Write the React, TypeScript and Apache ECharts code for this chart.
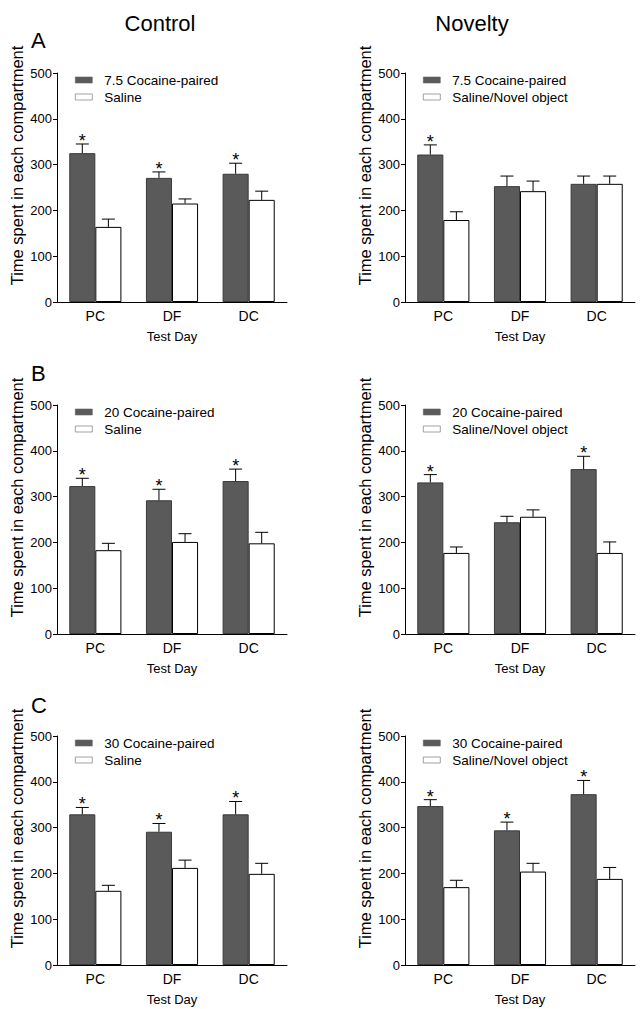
import React, { useEffect, useRef } from 'react';
import * as echarts from 'echarts';

const categories = ['PC', 'DF', 'DC'];
const yTickMax = 500;
const yTickStep = 100;

const columnTitles = ['Control', 'Novelty'];
const rowLetters = ['A', 'B', 'C'];
const yAxisTitle = 'Time spent in each compartment';
const xAxisTitle = 'Test Day';

const cocaineNames = ['7.5 Cocaine-paired', '20 Cocaine-paired', '30 Cocaine-paired'];
const salineNameControl = 'Saline';
const salineNameNovelty = 'Saline/Novel object';

// Row A (7.5)
const aControlCocaine = [325, 271, 280];
const aControlCocaineSem = [20, 13, 23];
const aControlSaline = [164, 215, 223];
const aControlSalineSem = [17, 10, 19];
const aControlStars = [1, 1, 1];

const aNoveltyCocaine = [322, 253, 258];
const aNoveltyCocaineSem = [21, 22, 17];
const aNoveltySaline = [179, 242, 258];
const aNoveltySalineSem = [18, 22, 17];
const aNoveltyStars = [1, 0, 0];

// Row B (20)
const bControlCocaine = [323, 292, 334];
const bControlCocaineSem = [17, 24, 26];
const bControlSaline = [183, 201, 198];
const bControlSalineSem = [15, 18, 24];
const bControlStars = [1, 1, 1];

const bNoveltyCocaine = [331, 244, 360];
const bNoveltyCocaineSem = [17, 13, 28];
const bNoveltySaline = [177, 256, 177];
const bNoveltySalineSem = [13, 15, 24];
const bNoveltyStars = [1, 0, 1];

// Row C (30)
const cControlCocaine = [329, 291, 329];
const cControlCocaineSem = [15, 18, 28];
const cControlSaline = [162, 212, 199];
const cControlSalineSem = [12, 17, 23];
const cControlStars = [1, 1, 1];

const cNoveltyCocaine = [347, 294, 373];
const cNoveltyCocaineSem = [14, 18, 30];
const cNoveltySaline = [170, 204, 188];
const cNoveltySalineSem = [15, 18, 25];
const cNoveltyStars = [1, 1, 1];

const FONT = "'Liberation Sans', Arial, Helvetica, sans-serif";
const BAR_FRAC = 0.34;

type Panel = {
  row: number;
  col: number;
  cocName: string;
  salName: string;
  coc: number[];
  cocSem: number[];
  sal: number[];
  salSem: number[];
  stars: number[];
};

const panels: Panel[] = [
  { row: 0, col: 0, cocName: cocaineNames[0], salName: salineNameControl, coc: aControlCocaine, cocSem: aControlCocaineSem, sal: aControlSaline, salSem: aControlSalineSem, stars: aControlStars },
  { row: 0, col: 1, cocName: cocaineNames[0], salName: salineNameNovelty, coc: aNoveltyCocaine, cocSem: aNoveltyCocaineSem, sal: aNoveltySaline, salSem: aNoveltySalineSem, stars: aNoveltyStars },
  { row: 1, col: 0, cocName: cocaineNames[1], salName: salineNameControl, coc: bControlCocaine, cocSem: bControlCocaineSem, sal: bControlSaline, salSem: bControlSalineSem, stars: bControlStars },
  { row: 1, col: 1, cocName: cocaineNames[1], salName: salineNameNovelty, coc: bNoveltyCocaine, cocSem: bNoveltyCocaineSem, sal: bNoveltySaline, salSem: bNoveltySalineSem, stars: bNoveltyStars },
  { row: 2, col: 0, cocName: cocaineNames[2], salName: salineNameControl, coc: cControlCocaine, cocSem: cControlCocaineSem, sal: cControlSaline, salSem: cControlSalineSem, stars: cControlStars },
  { row: 2, col: 1, cocName: cocaineNames[2], salName: salineNameNovelty, coc: cNoveltyCocaine, cocSem: cNoveltyCocaineSem, sal: cNoveltySaline, salSem: cNoveltySalineSem, stars: cNoveltyStars },
];

// layout
const gridTops = [73, 405, 736];
const gridLefts = [57, 405];
const gridW = 230;
const gridH = 229;
const letterYs = [40, 373, 705];
const colTitleXs = [160, 472];

function renderErr(params: any, api: any) {
  const ci = api.value(0);
  const mean = api.value(1);
  const sem = api.value(2);
  const side = api.value(3);
  const star = api.value(4);
  const base = api.coord([ci, mean]);
  const top = api.coord([ci, mean + sem]);
  const bw = api.size([1, 0])[0] * BAR_FRAC;
  const cx = base[0] + (side * bw) / 2;
  const children: any[] = [
    { type: 'line', shape: { x1: cx, y1: base[1], x2: cx, y2: top[1] }, style: { stroke: '#000', lineWidth: 1 } },
    { type: 'line', shape: { x1: cx - 6.5, y1: top[1], x2: cx + 6.5, y2: top[1] }, style: { stroke: '#000', lineWidth: 1 } },
  ];
  if (star) {
    children.push({
      type: 'text',
      x: cx,
      y: top[1] - 3,
      style: { text: '*', fill: '#000', fontSize: 18, fontFamily: FONT, align: 'center', verticalAlign: 'middle' },
    });
  }
  return { type: 'group', children };
}

function buildOption() {
  const grid: any[] = [];
  const xAxis: any[] = [];
  const yAxis: any[] = [];
  const series: any[] = [];
  const legend: any[] = [];
  const graphic: any[] = [];

  panels.forEach((p, i) => {
    const left = gridLefts[p.col];
    const top = gridTops[p.row];
    grid.push({ left, top, width: gridW, height: gridH, containLabel: false });
    xAxis.push({
      type: 'category',
      gridIndex: i,
      data: categories,
      axisLine: { lineStyle: { color: '#000', width: 1 } },
      axisTick: { alignWithLabel: true, length: 4, lineStyle: { color: '#000' } },
      axisLabel: { color: '#000', fontSize: 14, margin: 7, fontFamily: FONT },
      name: xAxisTitle,
      nameLocation: 'middle',
      nameGap: 28,
      nameTextStyle: { color: '#000', fontSize: 13, fontFamily: FONT },
    });
    yAxis.push({
      type: 'value',
      gridIndex: i,
      min: 0,
      max: yTickMax,
      interval: yTickStep,
      axisLine: { show: true, lineStyle: { color: '#000', width: 1 } },
      axisTick: { show: true, length: 4, lineStyle: { color: '#000' } },
      splitLine: { show: false },
      axisLabel: { color: '#000', fontSize: 13, margin: 5, fontFamily: FONT },
    });
    series.push({
      type: 'bar',
      name: p.cocName,
      xAxisIndex: i,
      yAxisIndex: i,
      data: p.coc,
      barWidth: BAR_FRAC * 100 + '%',
      barGap: '0%',
      itemStyle: { color: '#5a5a5a', borderColor: '#3a3a3a', borderWidth: 1 },
    });
    series.push({
      type: 'bar',
      name: p.salName,
      xAxisIndex: i,
      yAxisIndex: i,
      data: p.sal,
      barWidth: BAR_FRAC * 100 + '%',
      barGap: '0%',
      itemStyle: { color: '#ffffff', borderColor: '#000', borderWidth: 1 },
    });
    const errData: any[] = [];
    categories.forEach((_, k) => {
      errData.push([k, p.coc[k], p.cocSem[k], -1, p.stars[k]]);
      errData.push([k, p.sal[k], p.salSem[k], 1, 0]);
    });
    series.push({
      type: 'custom',
      xAxisIndex: i,
      yAxisIndex: i,
      data: errData,
      encode: { x: 0, y: 1 },
      renderItem: renderErr,
      z: 5,
      silent: true,
    });
    legend.push({
      orient: 'vertical',
      left: left + 13,
      top: top - 5,
      itemWidth: 17,
      itemHeight: 6,
      itemGap: 3,
      icon: 'rect',
      selectedMode: false,
      itemStyle: { borderWidth: 0.6, borderColor: '#666' },
      data: [p.cocName, p.salName],
      textStyle: { fontSize: 13.5, color: '#000', fontFamily: FONT, padding: [0, 0, 0, 7] },
    });
    graphic.push({
      type: 'text',
      x: left - 40,
      y: top + gridH / 2 - 22,
      rotation: Math.PI / 2,
      style: { text: yAxisTitle, fill: '#000', fontSize: 16.5, fontFamily: FONT, align: 'center', verticalAlign: 'middle' },
    });
  });

  columnTitles.forEach((t, c) => {
    graphic.push({
      type: 'text',
      x: colTitleXs[c],
      y: 23,
      style: { text: t, fill: '#000', fontSize: 22, fontFamily: FONT, align: 'center', verticalAlign: 'middle' },
    });
  });
  rowLetters.forEach((l, r) => {
    graphic.push({
      type: 'text',
      x: 31,
      y: letterYs[r],
      style: { text: l, fill: '#000', fontSize: 22, fontFamily: FONT, align: 'left', verticalAlign: 'middle' },
    });
  });

  return {
    animation: false,
    backgroundColor: '#ffffff',
    textStyle: { fontFamily: FONT },
    grid,
    xAxis,
    yAxis,
    series,
    legend,
    graphic,
  };
}

export default function App() {
  const ref = useRef<HTMLDivElement>(null);
  useEffect(() => {
    if (!ref.current) return;
    const chart = echarts.init(ref.current, undefined, { renderer: 'svg' });
    chart.setOption(buildOption() as any);
    return () => chart.dispose();
  }, []);
  return (
    <div
      ref={ref}
      style={{ position: 'fixed', left: 0, top: 0, width: 644, height: 1009, background: '#fff' }}
    />
  );
}
